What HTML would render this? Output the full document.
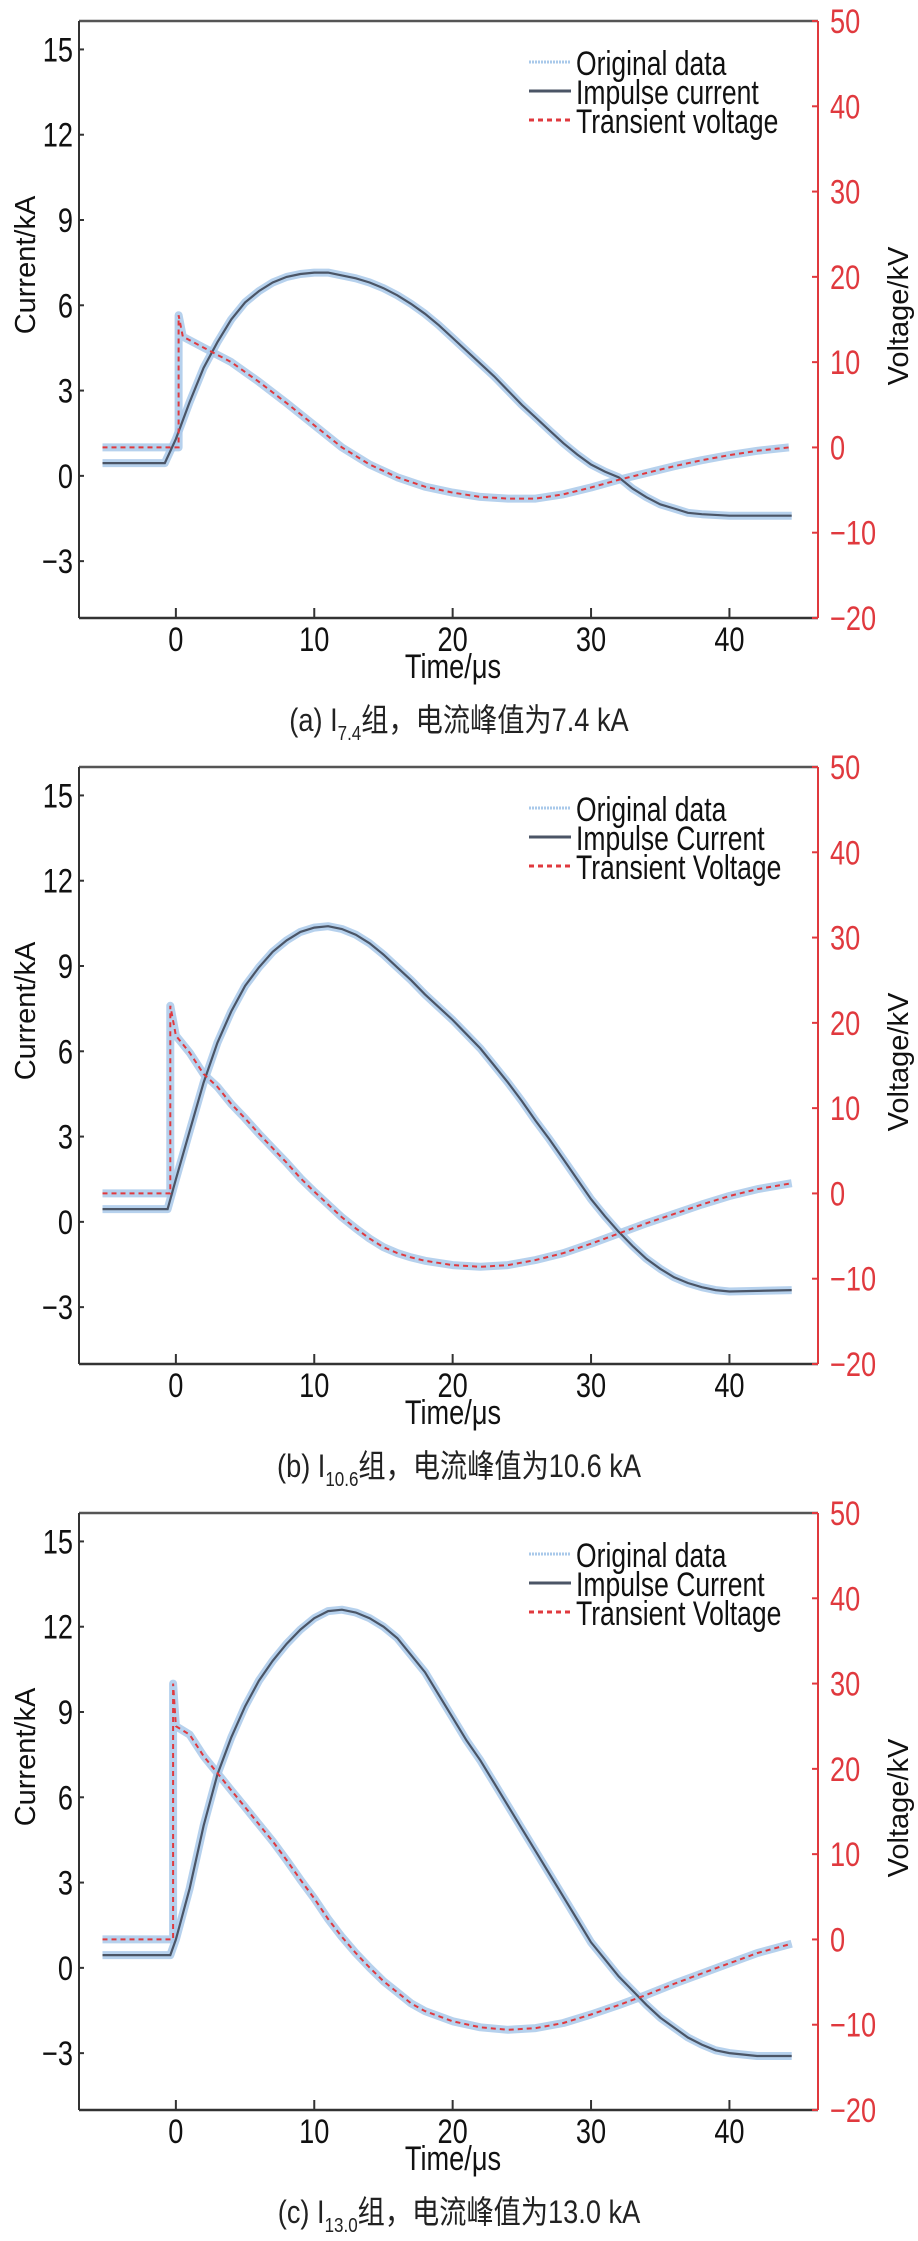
<!DOCTYPE html>
<html><head><meta charset="utf-8"><style>
html,body{margin:0;padding:0;background:#fff;}
svg{display:block;}
text{font-family:"Liberation Sans","Noto Sans CJK SC",sans-serif;}
</style></head><body>
<svg id="chart" width="918" height="2241" viewBox="0 0 918 2241" xmlns="http://www.w3.org/2000/svg"></svg>
<script>
// ---- data ----
const xTicks = [0, 10, 20, 30, 40];
const yTicksCurrent = [-3, 0, 3, 6, 9, 12, 15];
const yTicksVoltage = [-20, -10, 0, 10, 20, 30, 40, 50];
const captions = ["(a) I|7.4|组，电流峰值为7.4 kA", "(b) I|10.6|组，电流峰值为10.6 kA", "(c) I|13.0|组，电流峰值为13.0 kA"];
const legendLabels = [["Original data","Impulse current","Transient voltage"],["Original data","Impulse Current","Transient Voltage"],["Original data","Impulse Current","Transient Voltage"]];

const tA = [-5.3,-0.8,0,1,2,3,4,5,6,7,8,9,10,11,12,13,14,15,16,17,18,19,20,21,22,23,24,25,26,27,28,29,30,31,32,33,34,35,36,37,38,40,44.5];
const iA = [0.45,0.45,1.3,2.6,3.8,4.7,5.5,6.1,6.5,6.8,7.0,7.1,7.15,7.15,7.05,6.95,6.8,6.6,6.35,6.05,5.7,5.3,4.85,4.4,3.95,3.5,3.0,2.5,2.05,1.6,1.15,0.75,0.4,0.15,-0.05,-0.45,-0.75,-1.0,-1.15,-1.3,-1.35,-1.4,-1.4];
const tvA = [-5.3,0.2,0.2,0.5,2,4,6,8,10,12,14,16,18,20,22,24,26,28,30,32,34,36,38,40,42,44.3];
const vA = [0,0,15.5,13,11.7,10,7.7,5.2,2.6,0,-2,-3.5,-4.6,-5.3,-5.8,-6,-6,-5.5,-4.7,-3.8,-3,-2.2,-1.5,-0.9,-0.4,0];

const tB = [-5.3,-0.6,0,1,2,3,4,5,6,7,8,9,10,11,12,13,14,15,16,17,18,19,20,21,22,23,24,25,26,27,28,29,30,31,32,33,34,35,36,37,38,39,40,44.5];
const iB = [0.45,0.45,1.5,3.2,4.9,6.3,7.4,8.3,8.95,9.5,9.9,10.2,10.35,10.4,10.3,10.1,9.8,9.4,8.95,8.5,8.0,7.55,7.1,6.6,6.1,5.5,4.9,4.25,3.55,2.9,2.2,1.5,0.8,0.2,-0.35,-0.85,-1.3,-1.65,-1.95,-2.15,-2.3,-2.4,-2.45,-2.4];
const tvB = [-5.3,-0.4,-0.4,0,1,2,3,4,5,6,7,8,9,10,11,12,13,14,15,16,17,18,20,22,24,26,28,30,32,34,36,38,40,42,44.5];
const vB = [0,0,22,18.5,16.5,14,12.5,10.5,8.8,7,5.3,3.6,1.8,0.2,-1.3,-2.8,-4.1,-5.3,-6.3,-7,-7.5,-7.9,-8.4,-8.6,-8.4,-7.8,-7,-5.9,-4.7,-3.5,-2.4,-1.3,-0.3,0.5,1.2];

const tC = [-5.3,-0.4,0,1,2,3,4,5,6,7,8,9,10,11,12,13,14,15,16,17,18,19,20,21,22,23,24,25,26,27,28,29,30,31,32,33,34,35,36,37,38,39,40,42,44.5];
const iC = [0.45,0.45,1.0,2.8,5.0,6.8,8.1,9.2,10.1,10.8,11.4,11.9,12.3,12.55,12.6,12.5,12.3,12.0,11.6,11.0,10.4,9.6,8.8,8.0,7.3,6.5,5.7,4.9,4.1,3.3,2.5,1.7,0.9,0.3,-0.3,-0.8,-1.3,-1.75,-2.1,-2.45,-2.7,-2.9,-3.0,-3.1,-3.1];
const tvC = [-5.3,-0.2,-0.2,0,1,2,3,4,5,6,7,8,9,10,11,12,13,14,15,16,17,18,20,22,24,26,28,30,32,34,36,38,40,42,44.5];
const vC = [0,0,30,25,24,21.5,19.5,17.5,15.5,13.5,11.5,9.3,7,4.8,2.4,0.3,-1.6,-3.3,-4.9,-6.2,-7.5,-8.4,-9.6,-10.3,-10.6,-10.4,-9.8,-8.8,-7.7,-6.5,-5.2,-4,-2.8,-1.6,-0.5];

const panels = [
  {tI:tA, I:iA, tV:tvA, V:vA},
  {tI:tB, I:iB, tV:tvB, V:vB},
  {tI:tC, I:iC, tV:tvC, V:vC}
];

// ---- drawing ----
const NS = "http://www.w3.org/2000/svg";
const svg = document.getElementById("chart");
const L = 79, R = 818, H = 597, RED = "#e0393e";
const FS = 34, SX = 0.8;
function mk(tag, attrs, parent){
  const e = document.createElementNS(NS, tag);
  for (const k in attrs) e.setAttribute(k, attrs[k]);
  (parent||svg).appendChild(e);
  return e;
}
const xS = t => L + (t + 7.0) * (R - L) / 53.4;

panels.forEach((p, idx) => {
  const top = 21 + idx * 746, bot = top + H;
  const yI = v => top + (16 - v) * H / 21;
  const yV = v => top + (50 - v) * H / 70;
  const g = mk("g", {});
  
  

  const topLine = mk("line", {x1:L, y1:top, x2:R, y2:top, stroke:"#555", "stroke-width":2.5}, g);
  
  

  const pts = (ts, vs, f) => ts.map((t,i)=> xS(t).toFixed(1)+","+f(vs[i]).toFixed(1)).join(" ");
  const origI = mk("polyline", {points:pts(p.tI,p.I,yI), fill:"none", stroke:"#a9c9ea", "stroke-width":8, "stroke-opacity":0.85, "stroke-linejoin":"round"}, g);
  
  
  const origV = mk("polyline", {points:pts(p.tV,p.V,yV), fill:"none", stroke:"#a9c9ea", "stroke-width":8, "stroke-opacity":0.85, "stroke-linejoin":"round"}, g);
  
  
  const cur = mk("polyline", {points:pts(p.tI,p.I,yI), fill:"none", stroke:"#4b5566", "stroke-width":2.2}, g);
  
  
  const vol = mk("polyline", {points:pts(p.tV,p.V,yV), fill:"none", stroke:RED, "stroke-width":2, "stroke-dasharray":"5,4"}, g);
  
  

  const la = mk("line", {x1:L, y1:top, x2:L, y2:bot, stroke:"#333", "stroke-width":2}, g);
  
  
  const ba = mk("line", {x1:L, y1:bot, x2:R, y2:bot, stroke:"#333", "stroke-width":2.5}, g);
  
  
  const ra = mk("line", {x1:R, y1:top, x2:R, y2:bot, stroke:RED, "stroke-width":2}, g);
  
  

  yTicksCurrent.forEach(v => {
    const y = yI(v);
    const tk = mk("line", {x1:L-1, y1:y, x2:L+5, y2:y, stroke:"#333", "stroke-width":2}, g);
    
    
    const tx = mk("text", {transform:`translate(73,${y+12}) scale(${SX},1)`, "font-size":FS, "text-anchor":"end", fill:"#111"}, g);
    tx.textContent = v < 0 ? "\u2212" + Math.abs(v) : String(v);
    
    
  });
  yTicksVoltage.forEach(v => {
    const y = yV(v);
    const tk = mk("line", {x1:R-6, y1:y, x2:R, y2:y, stroke:RED, "stroke-width":2}, g);
    
    
    const tx = mk("text", {transform:`translate(830,${y+12}) scale(${SX},1)`, "font-size":FS, fill:RED}, g);
    tx.textContent = v < 0 ? "\u2212" + Math.abs(v) : String(v);
    
    
  });
  xTicks.forEach(t => {
    const x = xS(t);
    const tk = mk("line", {x1:x, y1:bot-10, x2:x, y2:bot, stroke:"#333", "stroke-width":2}, g);
    
    
    const tx = mk("text", {transform:`translate(${x},${bot+33}) scale(${SX},1)`, "font-size":FS, "text-anchor":"middle", fill:"#111"}, g);
    tx.textContent = String(t);
    
    
  });

  const xt = mk("text", {transform:`translate(453,${bot+60}) scale(${SX},1)`, "font-size":FS, "text-anchor":"middle", fill:"#111"}, g);
  xt.textContent = "Time/\u03bcs";
  
  
  const yt = mk("text", {transform:`translate(35,${top+244}) rotate(-90)`, "font-size":29, "text-anchor":"middle", fill:"#111"}, g);
  yt.textContent = "Current/kA";
  
  
  const yt2 = mk("text", {transform:`translate(908,${top+295}) rotate(-90)`, "font-size":29, "text-anchor":"middle", fill:"#111"}, g);
  yt2.textContent = "Voltage/kV";
  
  

  const ly = [top+42, top+71, top+100];
  const s1 = mk("line", {x1:529, y1:ly[0]-1, x2:571, y2:ly[0]-1, stroke:"#a9c9ea", "stroke-width":3, "stroke-dasharray":"2,1"}, g);
  
  
  const s2 = mk("line", {x1:529, y1:ly[1]-1, x2:571, y2:ly[1]-1, stroke:"#4b5566", "stroke-width":3}, g);
  
  
  const s3 = mk("line", {x1:529, y1:ly[2]-1, x2:571, y2:ly[2]-1, stroke:RED, "stroke-width":3, "stroke-dasharray":"5,4"}, g);
  
  
  legendLabels[idx].forEach((lab, i) => {
    const tx = mk("text", {transform:`translate(576,${ly[i]+12}) scale(0.78,1)`, "font-size":FS, fill:"#111"}, g);
    tx.textContent = lab;
    
    
  });

  const parts = captions[idx].split("|");
  const cap = mk("text", {transform:`translate(459,${bot+113}) scale(0.85,1)`, "font-size":32, "text-anchor":"middle", fill:"#222"}, g);
  
  
  const a = mk("tspan", {}, cap); a.textContent = parts[0];
  const b = mk("tspan", {"font-size":20, dy:9}, cap); b.textContent = parts[1];
  const c = mk("tspan", {dy:-9}, cap); c.textContent = parts[2];
});
</script>
</body></html>
